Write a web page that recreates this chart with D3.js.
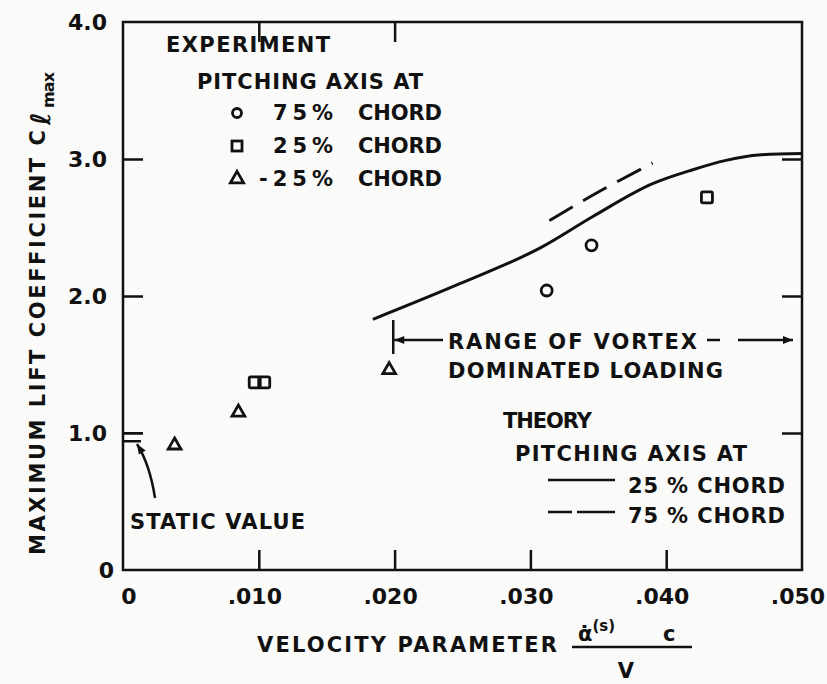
<!DOCTYPE html>
<meta charset="utf-8">
<head>
    <title>Maximum lift coefficient</title>
</head>
<style>
    body {
        margin: 0;
        background-color: #fafaf8;
    }
    svg text {
        font-family: "DejaVu Sans", Arial;
        font-weight: bold;
        fill: #111;
    }
    .axis path {
        display: none;
    }
    .axis line {
        stroke: #111;
        stroke-width: 2.5px;
    }
</style>
<body>
    <svg width="827" height="684"></svg>
</body>
<script src="https://d3js.org/d3.v7.min.js"></script>
<script>
    // experiment points, pitching axis at 75%, 25%, -25% chord
    var circlePts = [[0.0312, 2.04], [0.0345, 2.37]];
    var squarePts = [[0.0097, 1.37], [0.0104, 1.37], [0.0430, 2.72]];
    var trianglePts = [[0.0038, 0.91], [0.0085, 1.15], [0.0196, 1.46]];

    // theory curves
    var theory25 = [[0.0184, 1.83], [0.0248, 2.09], [0.0309, 2.36], [0.0346, 2.58],
        [0.0390, 2.82], [0.0419, 2.92], [0.0444, 2.99], [0.0468, 3.03], [0.0500, 3.04]];
    var theory75 = [[0.0314, 2.55], [0.0352, 2.77], [0.0390, 2.97]];

    var staticValue = 0.94;
    var vortexStart = 0.0199;

    var xTicks = [0.010, 0.020, 0.030, 0.040];
    var xLabels = [0, 0.010, 0.020, 0.030, 0.040, 0.050];
    var yTicks = [1, 2, 3];
    var yLabels = [0, 1, 2, 3, 4];

    var svg = d3.select("svg");

    var x = d3.scaleLinear().domain([0, 0.05]).range([123, 802]);
    var y = d3.scaleLinear().domain([0, 4]).range([570, 22]);

    function label(tx, ty, str, len, size) {
        var t = svg.append("text")
            .attr("x", tx).attr("y", ty)
            .attr("font-size", size || 21)
            .text(str);
        if (len) t.attr("textLength", len).attr("lengthAdjust", "spacing");
        return t;
    }

    var defs = svg.append("defs");
    defs.append("marker")
        .attr("id", "arrow")
        .attr("viewBox", "0 0 10 10")
        .attr("refX", 10).attr("refY", 5)
        .attr("markerWidth", 5).attr("markerHeight", 4)
        .attr("markerUnits", "strokeWidth")
        .attr("orient", "auto-start-reverse")
        .append("path")
        .attr("d", "M0,1 L10,5 L0,9 Z")
        .attr("fill", "#111");

    // frame
    svg.append("rect")
        .attr("x", x(0)).attr("y", y(4))
        .attr("width", x(0.05) - x(0)).attr("height", y(0) - y(4))
        .attr("fill", "none").attr("stroke", "#111").attr("stroke-width", 2.5);

    // inward ticks
    svg.append("g").attr("class", "axis")
        .attr("transform", "translate(0," + y(0) + ")")
        .call(d3.axisBottom(x).tickValues(xTicks).tickSize(-20).tickFormat(""));
    svg.append("g").attr("class", "axis")
        .attr("transform", "translate(0," + y(4) + ")")
        .call(d3.axisTop(x).tickValues([0.010, 0.020]).tickSize(-20).tickFormat(""));
    svg.append("g").attr("class", "axis")
        .attr("transform", "translate(" + x(0) + ",0)")
        .call(d3.axisLeft(y).tickValues(yTicks).tickSize(-20).tickFormat(""));
    svg.append("g").attr("class", "axis")
        .attr("transform", "translate(" + x(0.05) + ",0)")
        .call(d3.axisRight(y).tickValues(yTicks).tickSize(-20).tickFormat(""));

    // tick labels
    svg.selectAll("text.xl")
        .data(xLabels)
        .enter().append("text")
        .attr("class", "xl")
        .attr("x", d => x(d) + (d === 0 ? 6 : -4))
        .attr("y", 604)
        .attr("text-anchor", "middle")
        .attr("font-size", 22)
        .text(d => d === 0 ? "0" : d3.format(".3f")(d).replace(/^0/, ""));

    svg.selectAll("text.yl")
        .data(yLabels)
        .enter().append("text")
        .attr("class", "yl")
        .attr("x", d => d === 0 ? 114 : 107)
        .attr("y", d => y(d) + 8)
        .attr("text-anchor", "end")
        .attr("font-size", 22)
        .text(d => d === 0 ? "0" : d3.format(".1f")(d));

    // y axis title
    var yt = svg.append("g").attr("transform", "translate(45,0) rotate(-90)");
    yt.append("text")
        .attr("x", -555).attr("y", 0)
        .attr("font-size", 21)
        .attr("textLength", 425).attr("lengthAdjust", "spacing")
        .text("MAXIMUM LIFT COEFFICIENT C");
    yt.append("text")
        .attr("x", -125).attr("y", 5)
        .attr("font-size", 27).attr("font-style", "italic")
        .text("ℓ");
    yt.append("text")
        .attr("x", -108).attr("y", 9)
        .attr("font-size", 16)
        .attr("textLength", 36).attr("lengthAdjust", "spacing")
        .text("max");

    // x axis title
    label(257, 652, "VELOCITY PARAMETER", 300);
    var num = svg.append("text")
        .attr("x", 578).attr("y", 641)
        .attr("font-size", 21);
    num.append("tspan").text("α̇");
    num.append("tspan").attr("dy", -10).attr("font-size", 15).text("(s)");
    num.append("tspan").attr("dy", 10).attr("dx", 48).text("c");
    svg.append("line")
        .attr("x1", 572).attr("x2", 692).attr("y1", 647).attr("y2", 647)
        .attr("stroke", "#111").attr("stroke-width", 2.5);
    svg.append("text")
        .attr("x", 626).attr("y", 678)
        .attr("text-anchor", "middle")
        .attr("font-size", 21)
        .text("V");

    // theory lines
    var line = d3.line().x(d => x(d[0])).y(d => y(d[1])).curve(d3.curveMonotoneX);
    svg.append("path")
        .datum(theory25)
        .attr("d", line)
        .attr("fill", "none").attr("stroke", "#111").attr("stroke-width", 3);
    svg.append("path")
        .datum(theory75)
        .attr("d", line)
        .attr("fill", "none").attr("stroke", "#111").attr("stroke-width", 3)
        .attr("stroke-dasharray", "27,12");

    // experiment markers
    svg.selectAll("circle.pt")
        .data(circlePts)
        .enter().append("circle")
        .attr("class", "pt")
        .attr("cx", d => x(d[0])).attr("cy", d => y(d[1]))
        .attr("r", 5.5)
        .attr("fill", "none").attr("stroke", "#111").attr("stroke-width", 2.8);
    svg.selectAll("rect.pt")
        .data(squarePts)
        .enter().append("rect")
        .attr("class", "pt")
        .attr("x", d => x(d[0]) - 5.5).attr("y", d => y(d[1]) - 5.5)
        .attr("width", 11).attr("height", 11).attr("rx", 1.5)
        .attr("fill", "none").attr("stroke", "#111").attr("stroke-width", 2.8);
    var tri = d3.symbol().type(d3.symbolTriangle).size(70);
    svg.selectAll("path.tri")
        .data(trianglePts)
        .enter().append("path")
        .attr("class", "tri")
        .attr("d", tri)
        .attr("transform", d => "translate(" + x(d[0]) + "," + y(d[1]) + ")")
        .attr("fill", "none").attr("stroke", "#111").attr("stroke-width", 2.8);

    // static value
    svg.append("line")
        .attr("x1", x(0)).attr("x2", x(0) + 20)
        .attr("y1", y(1)).attr("y2", y(1))
        .attr("stroke", "#111").attr("stroke-width", 2);
    svg.append("line")
        .attr("x1", x(0)).attr("x2", x(0) + 18)
        .attr("y1", y(staticValue)).attr("y2", y(staticValue))
        .attr("stroke", "#111").attr("stroke-width", 2.5);
    svg.append("path")
        .attr("d", "M155,498 Q150,465 137,444")
        .attr("fill", "none").attr("stroke", "#111").attr("stroke-width", 2.5)
        .attr("marker-end", "url(#arrow)");
    label(130, 529, "STATIC VALUE", 175);

    // range of vortex dominated loading
    var ry = 340;
    svg.append("line")
        .attr("x1", x(vortexStart)).attr("x2", x(vortexStart))
        .attr("y1", 320).attr("y2", 354)
        .attr("stroke", "#111").attr("stroke-width", 2.5);
    svg.append("line")
        .attr("x1", 443).attr("x2", x(vortexStart) + 1)
        .attr("y1", ry).attr("y2", ry)
        .attr("stroke", "#111").attr("stroke-width", 2.5)
        .attr("marker-end", "url(#arrow)");
    svg.append("line")
        .attr("x1", 707).attr("x2", 720)
        .attr("y1", ry).attr("y2", ry)
        .attr("stroke", "#111").attr("stroke-width", 2.5);
    svg.append("line")
        .attr("x1", 738).attr("x2", 793)
        .attr("y1", ry).attr("y2", ry)
        .attr("stroke", "#111").attr("stroke-width", 2.5)
        .attr("marker-end", "url(#arrow)");
    label(448, 349, "RANGE OF VORTEX", 249);
    label(448, 378, "DOMINATED LOADING", 275);

    // experiment legend
    var legExp = [
        {shape: "circle", label: "75%", y: 120},
        {shape: "square", label: "25%", y: 153},
        {shape: "triangle", label: "-25%", y: 186}
    ];
    label(166, 52, "EXPERIMENT", 164);
    label(197, 89, "PITCHING AXIS AT", 226);
    legExp.forEach(function (d) {
        var cy = d.y - 7;
        if (d.shape === "circle") {
            svg.append("circle").attr("cx", 237).attr("cy", cy).attr("r", 4.5)
                .attr("fill", "none").attr("stroke", "#111").attr("stroke-width", 2.8);
        } else if (d.shape === "square") {
            svg.append("rect").attr("x", 232).attr("y", cy - 5).attr("width", 10).attr("height", 10)
                .attr("fill", "none").attr("stroke", "#111").attr("stroke-width", 2.8);
        } else {
            svg.append("path").attr("d", d3.symbol().type(d3.symbolTriangle).size(75))
                .attr("transform", "translate(237," + cy + ")")
                .attr("fill", "none").attr("stroke", "#111").attr("stroke-width", 2.8);
        }
        if (d.shape === "triangle") label(259, d.y, d.label, 74);
        else label(273, d.y, d.label, 60);
        label(358, d.y, "CHORD", 84);
    });

    // theory legend
    label(503, 428, "THEORY", 89);
    label(515, 461, "PITCHING AXIS AT", 232);
    svg.append("line").attr("x1", 548).attr("x2", 615).attr("y1", 480).attr("y2", 480)
        .attr("stroke", "#111").attr("stroke-width", 2.5);
    label(628, 493, "25 % CHORD", 157);
    svg.append("line").attr("x1", 548).attr("x2", 615).attr("y1", 512).attr("y2", 512)
        .attr("stroke", "#111").attr("stroke-width", 2.5)
        .attr("stroke-dasharray", "24,5,40");
    label(628, 523, "75 % CHORD", 157);
</script>
